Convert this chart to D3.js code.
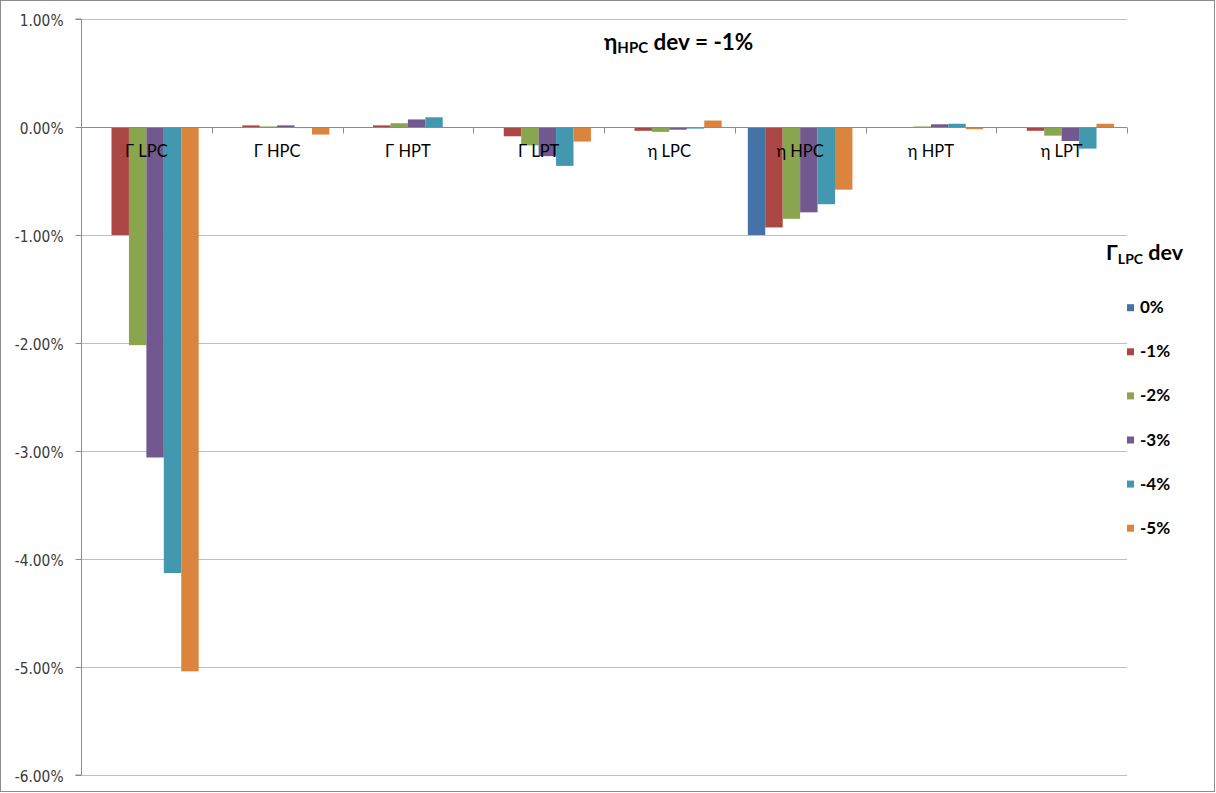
<!DOCTYPE html>
<html>
<head>
<meta charset="utf-8">
<script src="https://cdn.jsdelivr.net/npm/d3@7"></script>
<style>
  html, body { margin: 0; padding: 0; background: #fff; }
  svg { display: block; }
</style>
</head>
<body>
<svg id="chart" width="1216" height="793"></svg>
<script>
// Categories along the x axis
const categories = ["Γ LPC", "Γ HPC", "Γ HPT", "Γ LPT", "η LPC", "η HPC", "η HPT", "η LPT"];

// Series: Γ_LPC deviation levels
const seriesNames = ["0%", "-1%", "-2%", "-3%", "-4%", "-5%"];
const seriesColors = ["#4572A7", "#AA4643", "#89A54E", "#71588F", "#4198AF", "#DB843D"];

// Values in percent, one array per series (same order as categories)
const s0  = [0.00,  0.000, 0.000,  0.000,  0.000, -1.000, 0.000,  0.000];
const s1  = [-1.00, 0.015, 0.015, -0.086, -0.035, -0.930, 0.000, -0.035];
const s2  = [-2.02, 0.005, 0.035, -0.170, -0.045, -0.850, 0.005, -0.080];
const s3  = [-3.06, 0.015, 0.070, -0.270, -0.025, -0.790, 0.025, -0.130];
const s4  = [-4.13, -0.010, 0.090, -0.360, -0.015, -0.715, 0.030, -0.200];
const s5  = [-5.04, -0.070, 0.000, -0.135, 0.060, -0.580, -0.020, 0.030];
const seriesValues = [s0, s1, s2, s3, s4, s5];

// Y axis ticks (percent)
const yTicks = [1, 0, -1, -2, -3, -4, -5, -6];

const svg = d3.select("#chart");
const W = 1216, H = 793;
const plot = { left: 81, right: 1127, top: 19, bottom: 775 };

// Outer chart frame
svg.append("rect")
  .attr("x", 0.5).attr("y", 0.5)
  .attr("width", W - 2).attr("height", H - 2)
  .attr("fill", "#fff").attr("stroke", "#8c8c8c").attr("stroke-width", 1);

const y = d3.scaleLinear().domain([-6, 1]).range([plot.bottom, plot.top]);
const x = d3.scaleBand().domain(categories).range([plot.left, plot.right]).paddingInner(0).paddingOuter(0);

// Excel-style gap width of 150%: group occupies 6/(6+1.5) of the band
const groupW = x.bandwidth() * 6 / 7.5;
const xs = d3.scaleBand().domain(d3.range(seriesNames.length))
  .range([(x.bandwidth() - groupW) / 2, (x.bandwidth() + groupW) / 2]).padding(0);

// Horizontal gridlines
svg.append("g")
  .selectAll("line")
  .data(yTicks)
  .join("line")
  .attr("x1", plot.left).attr("x2", plot.right)
  .attr("y1", d => Math.round(y(d)) + 0.5).attr("y2", d => Math.round(y(d)) + 0.5)
  .attr("stroke", "#bfbfbf").attr("stroke-width", 1);

// Bars
const gBars = svg.append("g");
seriesValues.forEach((vals, si) => {
  gBars.append("g")
    .selectAll("rect")
    .data(vals.map((v, i) => ({ c: categories[i], v })))
    .join("rect")
    .attr("x", d => x(d.c) + xs(si))
    .attr("width", xs.bandwidth())
    .attr("y", d => Math.min(y(d.v), y(0)))
    .attr("height", d => Math.abs(y(d.v) - y(0)))
    .attr("fill", seriesColors[si]);
});

// Y axis (plain hyphen for negatives)
const fmt = d3.formatLocale({ decimal: ".", thousands: ",", grouping: [3], currency: ["", ""], minus: "-" }).format(".2f");
const yAxis = d3.axisLeft(y)
  .tickValues(yTicks)
  .tickSize(6)
  .tickPadding(0)
  .tickFormat(d => fmt(d) + "%");
const gy = svg.append("g")
  .attr("transform", `translate(${plot.left + 0.5},0)`)
  .call(yAxis);
gy.select(".domain").attr("stroke", "#8c8c8c").attr("d", `M-6,${y(1)}H0V${y(-6)}H-6`);
gy.selectAll(".tick line").attr("stroke", "#8c8c8c");
gy.selectAll(".tick text")
  .attr("fill", "#3a3a3a")
  .attr("font-family", "DejaVu Sans")
  .attr("font-size", 15)
  .attr("text-anchor", "end")
  .attr("x", null)
  .attr("dy", null)
  .attr("transform", "translate(-18,6) scale(0.92,1)");

// Category axis along zero line
const xAxis = d3.axisBottom(x).tickSize(0).tickFormat("");
const gx = svg.append("g")
  .attr("transform", `translate(0,${Math.round(y(0)) + 0.5})`)
  .call(xAxis);
gx.select(".domain").attr("stroke", "#8c8c8c").attr("d", `M${plot.left},0H${plot.right}`);
// tick marks at category boundaries
gx.selectAll(".sep")
  .data(d3.range(categories.length + 1))
  .join("line")
  .attr("class", "sep")
  .attr("x1", i => Math.round(plot.left + i * x.bandwidth()) + 0.5)
  .attr("x2", i => Math.round(plot.left + i * x.bandwidth()) + 0.5)
  .attr("y1", 0).attr("y2", 6)
  .attr("stroke", "#8c8c8c");

// Category labels (drawn over the bars)
svg.append("g")
  .selectAll("text")
  .data(categories)
  .join("text")
  .attr("x", d => x(d) + x.bandwidth() / 2)
  .attr("y", 156.5)
  .attr("text-anchor", "middle")
  .attr("font-family", "Lato")
  .attr("font-size", 16.5)
  .attr("fill", "#000")
  .text(d => d);

// Chart title with subscript
const title = svg.append("text")
  .attr("x", 604).attr("y", 50)
  .attr("font-family", "Lato").attr("font-weight", "bold")
  .attr("font-size", 22.5).attr("fill", "#000");
title.append("tspan").text("η");
title.append("tspan").attr("font-size", 15).attr("dy", 3).text("HPC");
title.append("tspan").attr("dy", -3).text(" dev = -1%");

// Legend
const legTitle = svg.append("text")
  .attr("x", 1106).attr("y", 260)
  .attr("font-family", "Lato").attr("font-weight", "bold")
  .attr("font-size", 21.5).attr("fill", "#000");
legTitle.append("tspan").text("Γ");
legTitle.append("tspan").attr("font-size", 14).attr("dy", 4).text("LPC");
legTitle.append("tspan").attr("dy", -4).text(" dev");

const leg = svg.append("g")
  .selectAll("g")
  .data(seriesNames)
  .join("g")
  .attr("transform", (d, i) => `translate(1127,${307.7 + i * 44.1})`);
leg.append("rect")
  .attr("x", 0).attr("y", -3.5)
  .attr("width", 7).attr("height", 7)
  .attr("fill", (d, i) => seriesColors[i]);
leg.append("text")
  .attr("x", 13).attr("y", 5.5)
  .attr("font-family", "Lato").attr("font-weight", "bold")
  .attr("font-size", 17).attr("fill", "#000")
  .text(d => d);
</script>
</body>
</html>
